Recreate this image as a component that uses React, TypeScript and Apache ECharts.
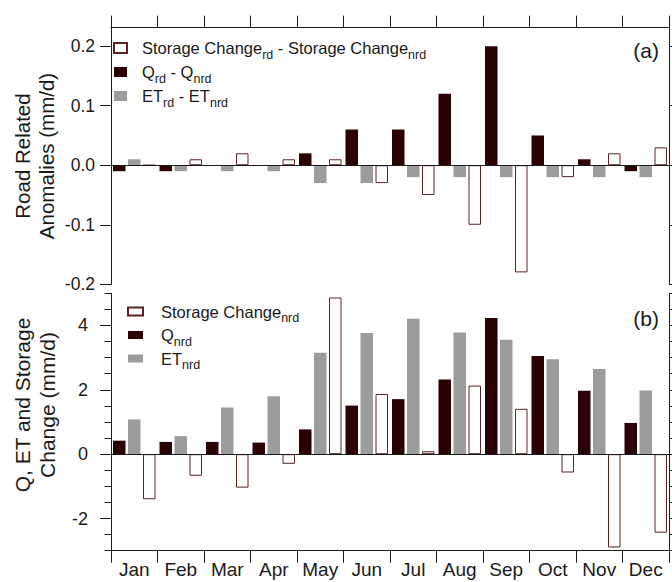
import React, { useEffect, useRef } from 'react';
import * as echarts from 'echarts';

const months = ['Jan', 'Feb', 'Mar', 'Apr', 'May', 'Jun', 'Jul', 'Aug', 'Sep', 'Oct', 'Nov', 'Dec'];

// Panel (a): road related anomalies (mm/d)
const qDiff = [-0.01, -0.01, 0, 0, 0.02, 0.06, 0.06, 0.12, 0.2, 0.05, 0.01, -0.01];
const etDiff = [0.01, -0.01, -0.01, -0.01, -0.03, -0.03, -0.02, -0.02, -0.02, -0.02, -0.02, -0.02];
const storageDiff = [0, 0.01, 0.02, 0.01, 0.01, -0.03, -0.05, -0.1, -0.18, -0.02, 0.02, 0.03];

// Panel (b): Q, ET and storage change, no road (mm/d)
const qNrd = [0.42, 0.38, 0.38, 0.36, 0.77, 1.51, 1.71, 2.32, 4.23, 3.05, 1.97, 0.97];
const etNrd = [1.08, 0.56, 1.45, 1.8, 3.15, 3.77, 4.21, 3.78, 3.56, 2.95, 2.65, 1.98];
const storageNrd = [-1.4, -0.67, -1.04, -0.3, 4.87, 1.87, 0.09, 2.13, 1.41, -0.57, -2.9, -2.44];

// Tick values
const ticksA = [-0.2, -0.1, 0, 0.1, 0.2];
const ticksBMajor = [-2, 0, 2, 4];
const ticksBMinor = [-3, -2.5, -1.5, -1, -0.5, 0.5, 1, 1.5, 2.5, 3, 3.5, 4.5, 5];
const ticksBAll = [-3, -2.5, -2, -1.5, -1, -0.5, 0, 0.5, 1, 1.5, 2, 2.5, 3, 3.5, 4, 4.5, 5];

const NAME_SA = 'Storage Change_rd - Storage Change_nrd';
const NAME_QA = 'Q_rd - Q_nrd';
const NAME_EA = 'ET_rd - ET_nrd';
const NAME_SB = 'Storage Change_nrd';
const NAME_QB = 'Q_nrd';
const NAME_EB = 'ET_nrd';

const richLabels: Record<string, string> = {
  [NAME_SA]: '{sp| }{m|Storage Change}{s|rd}{m| - Storage Change}{s|nrd}',
  [NAME_QA]: '{sp| }{m|Q}{s|rd}{m| - Q}{s|nrd}',
  [NAME_EA]: '{sp| }{m|ET}{s|rd}{m| - ET}{s|nrd}',
  [NAME_SB]: '{sp2| }{m|Storage Change}{s|nrd}',
  [NAME_QB]: '{sp2| }{m|Q}{s|nrd}',
  [NAME_EB]: '{sp2| }{m|ET}{s|nrd}',
};

const FONT = '"Liberation Sans", Arial, Helvetica, sans-serif';
const INK = '#1a1a1a';
const DARK = '#2a0204';
const GRAY = '#9c9c9c';
const OPEN_BORDER = '#5a2424';

const rich = {
  sp: { width: 10, fontSize: 16, lineHeight: 16 },
  sp2: { width: 13, fontSize: 16, lineHeight: 16 },
  m: { fontSize: 16.5, lineHeight: 16, color: INK, fontFamily: FONT },
  s: { fontSize: 12.5, lineHeight: 12, padding: [13, 0, 0, 0], color: INK, fontFamily: FONT },
};

const lineStyle = { color: INK, width: 1 };

export default function App() {
  const ref = useRef<HTMLDivElement>(null);

  useEffect(() => {
    document.body.style.margin = '0';
    const chart = echarts.init(ref.current as HTMLDivElement, null, { renderer: 'svg' });

    const barBase = { type: 'bar' as const, barWidth: 12.5, barGap: '20%' };
    const zeroLine = {
      silent: true,
      symbol: ['none', 'none'],
      label: { show: false },
      lineStyle: { color: INK, width: 1, type: 'solid' },
      data: [{ yAxis: 0 }],
    };

    const option: any = {
      animation: false,
      backgroundColor: '#ffffff',
      textStyle: { fontFamily: FONT, color: INK },
      grid: [
        { left: 111, top: 27.7, width: 558, height: 256.6, outerBoundsMode: 'none' },
        { left: 111, top: 293.3, width: 558, height: 257.4, outerBoundsMode: 'none' },
        { left: 111, top: 293.3, width: 558, height: 257.4, outerBoundsMode: 'none' },
      ],
      xAxis: [
        {
          type: 'category',
          gridIndex: 0,
          data: months,
          position: 'top',
          axisLine: { show: true, onZero: false, lineStyle },
          axisTick: { show: true, length: 12, interval: 0, lineStyle },
          axisLabel: { show: false },
          splitLine: { show: false },
        },
        {
          type: 'category',
          gridIndex: 1,
          data: months,
          position: 'bottom',
          axisLine: { show: true, onZero: false, lineStyle },
          axisTick: { show: true, length: 12, interval: 0, lineStyle },
          axisLabel: { show: true, interval: 0, fontSize: 19, margin: 9, color: INK, fontFamily: FONT },
          splitLine: { show: false },
        },
        {
          type: 'category',
          gridIndex: 2,
          data: months,
          show: false,
        },
      ],
      yAxis: [
        {
          type: 'value',
          gridIndex: 0,
          position: 'left',
          min: -0.2,
          max: 0.231,
          interval: 0.1,
          axisLine: { show: true, lineStyle },
          axisTick: { show: true, length: 11, lineStyle, customValues: ticksA },
          axisLabel: {
            show: true,
            customValues: ticksA,
            fontSize: 17.5,
            margin: 16,
            color: INK,
            fontFamily: FONT,
            formatter: (v: number) => v.toFixed(1),
          },
          splitLine: { show: false },
        },
        {
          type: 'value',
          gridIndex: 0,
          position: 'right',
          min: -0.2,
          max: 0.231,
          interval: 0.1,
          axisLine: { show: true, lineStyle },
          axisTick: { show: true, length: 8, lineStyle, customValues: ticksA },
          axisLabel: { show: false },
          splitLine: { show: false },
        },
        {
          type: 'value',
          gridIndex: 1,
          position: 'left',
          min: -3,
          max: 5,
          interval: 1,
          axisLine: { show: true, lineStyle },
          axisTick: { show: true, length: 11, lineStyle, customValues: ticksBMajor },
          axisLabel: {
            show: true,
            customValues: ticksBMajor,
            fontSize: 18,
            margin: 23,
            color: INK,
            fontFamily: FONT,
            formatter: (v: number) => String(v),
          },
          splitLine: { show: false },
        },
        {
          type: 'value',
          gridIndex: 1,
          position: 'right',
          min: -3,
          max: 5,
          interval: 1,
          axisLine: { show: true, lineStyle },
          axisTick: { show: true, length: 7, lineStyle, customValues: ticksBAll },
          axisLabel: { show: false },
          splitLine: { show: false },
        },
        {
          type: 'value',
          gridIndex: 2,
          position: 'left',
          min: -3,
          max: 5,
          interval: 1,
          axisLine: { show: false },
          axisTick: { show: true, length: 6.5, lineStyle, customValues: ticksBMinor },
          axisLabel: { show: false },
          splitLine: { show: false },
        },
      ],
      legend: [
        {
          data: [NAME_SA, NAME_QA, NAME_EA],
          orient: 'vertical',
          left: 113,
          top: 35,
          itemGap: -2,
          itemWidth: 13,
          itemHeight: 10,
          icon: 'rect',
          selectedMode: false,
          padding: 0,
          formatter: (name: string) => richLabels[name],
          textStyle: { fontSize: 16, color: INK, fontFamily: FONT, rich },
        },
        {
          data: [NAME_SB, NAME_QB, NAME_EB],
          orient: 'vertical',
          left: 127,
          top: 298.5,
          itemGap: -2.5,
          itemWidth: 15,
          itemHeight: 8,
          icon: 'rect',
          selectedMode: false,
          padding: 0,
          formatter: (name: string) => richLabels[name],
          textStyle: { fontSize: 16, color: INK, fontFamily: FONT, rich },
        },
      ],
      series: [
        { ...barBase, name: NAME_QA, xAxisIndex: 0, yAxisIndex: 0, data: qDiff, itemStyle: { color: DARK } },
        { ...barBase, name: NAME_EA, xAxisIndex: 0, yAxisIndex: 0, data: etDiff, itemStyle: { color: GRAY } },
        {
          ...barBase,
          name: NAME_SA,
          xAxisIndex: 0,
          yAxisIndex: 0,
          data: storageDiff,
          itemStyle: { color: '#ffffff', borderColor: OPEN_BORDER, borderWidth: 1 },
          markLine: zeroLine,
        },
        { ...barBase, name: NAME_QB, xAxisIndex: 1, yAxisIndex: 2, data: qNrd, itemStyle: { color: DARK } },
        { ...barBase, name: NAME_EB, xAxisIndex: 1, yAxisIndex: 2, data: etNrd, itemStyle: { color: GRAY } },
        {
          ...barBase,
          name: NAME_SB,
          xAxisIndex: 1,
          yAxisIndex: 2,
          data: storageNrd,
          itemStyle: { color: '#ffffff', borderColor: OPEN_BORDER, borderWidth: 1 },
          markLine: zeroLine,
        },
      ],
      graphic: [
        {
          type: 'text',
          x: 34.5,
          y: 156,
          rotation: Math.PI / 2,
          style: {
            text: 'Road Related\nAnomalies (mm/d)',
            fontSize: 20.5,
            fontFamily: FONT,
            lineHeight: 24,
            fill: INK,
            align: 'center',
            verticalAlign: 'middle',
            textAlign: 'center',
            textVerticalAlign: 'middle',
          },
        },
        {
          type: 'text',
          x: 34.5,
          y: 405,
          rotation: Math.PI / 2,
          style: {
            text: 'Q, ET and Storage\nChange (mm/d)',
            fontSize: 21,
            fontFamily: FONT,
            lineHeight: 25,
            fill: INK,
            align: 'center',
            verticalAlign: 'middle',
            textAlign: 'center',
            textVerticalAlign: 'middle',
          },
        },
        {
          type: 'text',
          x: 659,
          y: 50,
          style: {
            text: '(a)',
            fontSize: 21,
            fontFamily: FONT,
            fill: INK,
            align: 'right',
            verticalAlign: 'middle',
            textAlign: 'right',
            textVerticalAlign: 'middle',
          },
        },
        {
          type: 'text',
          x: 659,
          y: 318,
          style: {
            text: '(b)',
            fontSize: 21,
            fontFamily: FONT,
            fill: INK,
            align: 'right',
            verticalAlign: 'middle',
            textAlign: 'right',
            textVerticalAlign: 'middle',
          },
        },
      ],
    };

    chart.setOption(option);
    return () => chart.dispose();
  }, []);

  return (
    <div
      ref={ref}
      style={{ position: 'absolute', left: 0, top: 0, width: 672, height: 582 }}
    />
  );
}
